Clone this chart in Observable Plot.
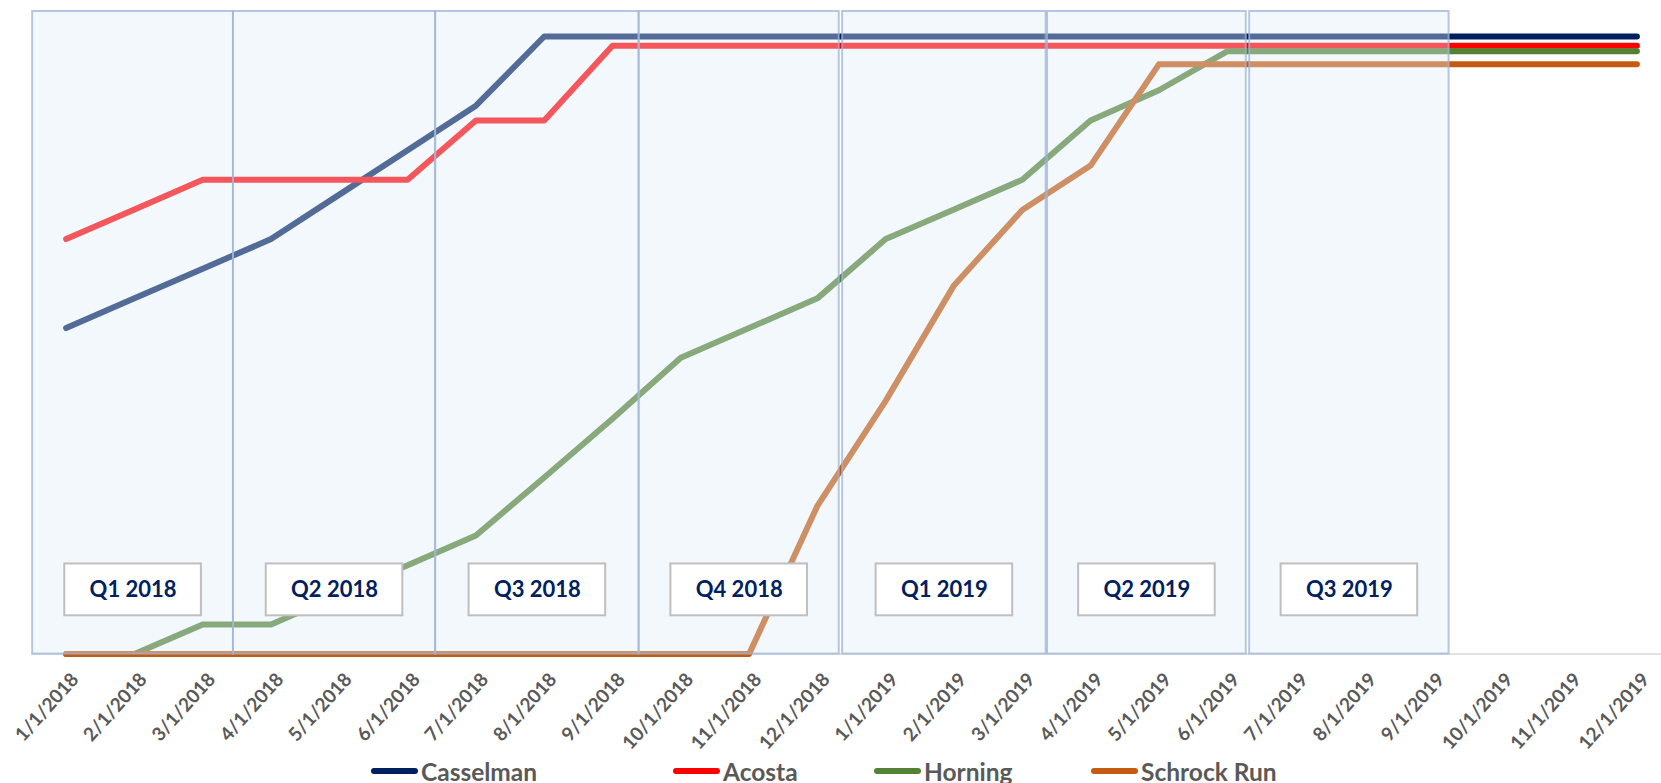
<!DOCTYPE html>
<html>
<head>
<meta charset="utf-8">
<script src="https://cdn.jsdelivr.net/npm/d3@7"></script>
<script src="https://cdn.jsdelivr.net/npm/@observablehq/plot@0.6"></script>
<style>
  html, body { margin: 0; padding: 0; background: #fff; overflow: hidden; }
  #chart { width: 1661px; position: relative; }
  .legend { position: relative; height: 30px; margin-top: 8px;
            font-family: Lato, "Open Sans", sans-serif; font-weight: 700; font-size: 24.5px; color: #595959; }
  .legend .item { position: absolute; top: 0; height: 30px; display: flex; align-items: center; white-space: nowrap; }
  .legend .sw { display: inline-block; width: 47px; height: 6px; border-radius: 3px; margin-right: 3px; }
</style>
</head>
<body>
<div id="chart"></div>
<script>
// ---- data ----
const months = ["1/1/2018","2/1/2018","3/1/2018","4/1/2018","5/1/2018","6/1/2018",
  "7/1/2018","8/1/2018","9/1/2018","10/1/2018","11/1/2018","12/1/2018",
  "1/1/2019","2/1/2019","3/1/2019","4/1/2019","5/1/2019","6/1/2019",
  "7/1/2019","8/1/2019","9/1/2019","10/1/2019","11/1/2019","12/1/2019"];

const seriesNames = ["Casselman", "Acosta", "Horning", "Schrock Run"];
const seriesColors = ["#002060", "#FF0000", "#548235", "#C55A11"];

const casselman = [52.8, 57.6, 62.4, 67.2, 74.4, 81.6, 88.8, 100, 100, 100, 100, 100,
  100, 100, 100, 100, 100, 100, 100, 100, 100, 100, 100, 100];
const acosta = [67.2, 72.0, 76.8, 76.8, 76.8, 76.8, 86.4, 86.4, 98.5, 98.5, 98.5, 98.5,
  98.5, 98.5, 98.5, 98.5, 98.5, 98.5, 98.5, 98.5, 98.5, 98.5, 98.5, 98.5];
const horning = [0, 0, 4.8, 4.8, 9.6, 14.4, 19.2, 28.6, 38.1, 48.0, 52.8, 57.6,
  67.2, 72.0, 76.8, 86.4, 91.3, 97.6, 97.6, 97.6, 97.6, 97.6, 97.6, 97.6];
const schrock = [0, 0, 0, 0, 0, 0, 0, 0, 0, 0, 0, 24.0,
  41.0, 59.7, 71.9, 79.1, 95.5, 95.5, 95.5, 95.5, 95.5, 95.5, 95.5, 95.5];

const quarterLabels = ["Q1 2018", "Q2 2018", "Q3 2018", "Q4 2018", "Q1 2019", "Q2 2019", "Q3 2019"];
const quarterStart = [-0.49, 2.45, 5.41, 8.39, 11.37, 14.37, 17.33];
const quarterEnd   = [2.45, 5.41, 8.39, 11.32, 14.35, 17.28, 20.25];

// ---- build tables ----
const seriesValues = [casselman, acosta, horning, schrock];
const rows = [];
seriesNames.forEach((name, s) => {
  seriesValues[s].forEach((v, i) => rows.push({series: name, month: i, value: v}));
});
const quarters = quarterLabels.map((label, i) => ({
  label, x1: quarterStart[i], x2: quarterEnd[i], mid: (quarterStart[i] + quarterEnd[i]) / 2
}));

const FONT = "Lato, 'Open Sans', sans-serif";
const yTop = 104.05;

const chart = Plot.plot({
  width: 1661,
  height: 748,
  marginLeft: 31.5,
  marginRight: 0,
  marginTop: 11,
  marginBottom: 94.4,
  style: {fontFamily: FONT, background: "#fff", overflow: "visible"},
  x: {type: "linear", domain: [-0.5, 23.36], axis: null},
  y: {domain: [0, yTop], axis: null},
  color: {domain: seriesNames, range: seriesColors},
  marks: [
    Plot.ruleY([0], {stroke: "#d9d9d9", strokeWidth: 1.5}),
    Plot.lineY(rows, {x: "month", y: "value", z: "series", stroke: "series",
      strokeWidth: 6, strokeLinecap: "round", strokeLinejoin: "round"}),
    Plot.rect(quarters, {x1: "x1", x2: "x2", y1: 0, y2: yTop,
      fill: "rgb(222,235,247)", fillOpacity: 0.37,
      stroke: "#9fb4d6", strokeOpacity: 0.75, strokeWidth: 2}),
    Plot.rect(quarters, {x1: d => d.mid - 1.0, x2: d => d.mid + 1.0, y1: 6.2, y2: 14.6,
      fill: "#fff", stroke: "#bfbfbf", strokeWidth: 2}),
    Plot.text(quarters, {x: "mid", y: 10.4, text: "label", fill: "#002060",
      fontSize: 22, fontWeight: "bold", fontFamily: FONT}),
    Plot.axisX(d3.range(months.length), {
      tickFormat: i => months[i], tickRotate: -48, tickSize: 0, tickPadding: 22, dx: 9,
      fontSize: 19, fontWeight: "bold", fill: "#595959", label: null, fontFamily: FONT
    })
  ]
});

const root = document.getElementById("chart");
root.appendChild(chart);

// legend item left edges (px)
const legendLeft = [371, 673, 874, 1091];
const legend = document.createElement("div");
legend.className = "legend";
seriesNames.forEach((name, i) => {
  const item = document.createElement("div");
  item.className = "item";
  item.style.left = legendLeft[i] + "px";
  const sw = document.createElement("span");
  sw.className = "sw";
  sw.style.background = seriesColors[i];
  const t = document.createElement("span");
  t.textContent = name;
  item.appendChild(sw);
  item.appendChild(t);
  legend.appendChild(item);
});
root.appendChild(legend);
</script>
</body>
</html>
